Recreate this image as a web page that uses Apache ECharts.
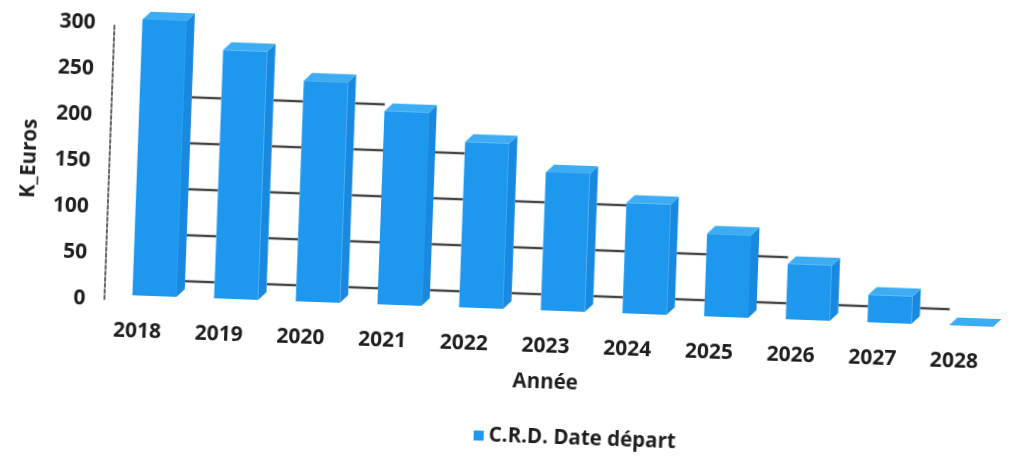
<!DOCTYPE html>
<html>
<head>
<meta charset="utf-8">
<title>C.R.D. Date départ</title>
<script src="https://cdn.jsdelivr.net/npm/echarts@6/dist/echarts.min.js"></script>
<style>
  html, body { margin: 0; padding: 0; background: #ffffff; overflow: hidden; }
  #chart {
    width: 1016px; height: 472px;
    /* the printed page sits slightly turned */
    transform: rotate(2.1deg);
    transform-origin: 508px 236px;
  }
</style>
</head>
<body>
<div id="chart"></div>
<script>
// Capital restant dû en début d'année (K€)
const years = ['2018', '2019', '2020', '2021', '2022', '2023', '2024', '2025', '2026', '2027', '2028'];
const crd = [300, 270, 240, 210, 180, 150, 120, 90, 60, 30, 0];
// back-wall gridline levels
const wallLevels = [0, 50, 100, 150, 200];
const seriesName = 'C.R.D. Date départ';

const FRONT = '#1d98ee';
const SIDE = '#1889e0';
const TOP = '#3eacf3';
const INK = '#1e1e1e';
const FONT = '"Open Sans", "DejaVu Sans", sans-serif';

const BAR_RATIO = 0.54;  // front face width / category band
const DEPTH = 8;         // 3D depth offset (px)
const LIFT = 5;          // bars sit slightly above the label baseline
const WALL_SHIFT = 21;   // back wall lines are drawn behind the bars

// gridline segments visible through the gaps between neighbouring columns
const wallSegments = [];
for (let i = 0; i < years.length - 1; i++) {
  const lower = Math.min(crd[i], crd[i + 1]);
  wallLevels.forEach(function (lv) {
    if (lv === 0 || lower > lv) wallSegments.push([i, lv]);
  });
}

const chart = echarts.init(document.getElementById('chart'));

chart.setOption({
  backgroundColor: '#ffffff',
  animation: false,
  textStyle: { fontFamily: FONT },
  grid: { left: 116, right: 1, top: 38, bottom: 158 },
  legend: {
    data: [{ name: seriesName, icon: 'rect' }],
    left: 476, top: 421,
    itemWidth: 10, itemHeight: 10, itemGap: 6,
    textStyle: { fontFamily: FONT, fontWeight: 'bold', fontSize: 20.5, color: INK }
  },
  xAxis: {
    type: 'category',
    data: years,
    name: 'Année',
    nameLocation: 'middle',
    nameGap: 57,
    nameTextStyle: { fontFamily: FONT, fontWeight: 'bold', fontSize: 20.5, color: INK, padding: [0, 30, 0, 0] },
    axisLine: { show: false },
    axisTick: { show: false },
    axisLabel: {
      margin: 21,
      fontFamily: FONT, fontWeight: 'bold', fontSize: 21, color: INK,
      padding: [0, 32, 0, 0]
    },
    splitLine: { show: false }
  },
  yAxis: {
    type: 'value',
    min: 0, max: 300, interval: 50,
    offset: 9,
    name: 'K_Euros',
    nameLocation: 'middle',
    nameRotate: 90,
    nameGap: 69,
    nameTextStyle: { fontFamily: FONT, fontWeight: 'bold', fontSize: 20.5, color: INK },
    axisLine: { show: true, lineStyle: { color: '#333', width: 1.5, type: [4, 2] } },
    axisTick: { show: false },
    axisLabel: { margin: 19, fontFamily: FONT, fontWeight: 'bold', fontSize: 21, color: INK },
    splitLine: { show: false }
  },
  series: [
    {
      name: 'wall',
      type: 'custom',
      silent: true,
      z: 1,
      data: wallSegments,
      renderItem: function (params, api) {
        const i = api.value(0);
        const lv = api.value(1);
        const a = api.coord([i, lv]);
        const b = api.coord([i + 1, lv]);
        const w = api.size([1, 0])[0] * BAR_RATIO;
        const y = a[1] - WALL_SHIFT;
        return {
          type: 'line',
          shape: { x1: a[0] + w / 2 + DEPTH, y1: y, x2: b[0] - w / 2, y2: y },
          style: { stroke: '#444', lineWidth: 2.4 }
        };
      }
    },
    {
      name: seriesName,
      type: 'custom',
      z: 2,
      itemStyle: { color: FRONT },
      data: crd.map(function (v, i) { return [i, v]; }),
      renderItem: function (params, api) {
        const idx = api.value(0);
        const v = api.value(1);
        const base = api.coord([idx, 0]);
        const top = api.coord([idx, v]);
        const w = api.size([1, 0])[0] * BAR_RATIO;
        const x0 = base[0] - w / 2;
        const x1 = base[0] + w / 2;
        const yb = base[1] - LIFT;
        const yt = top[1] - LIFT;
        const d = DEPTH;
        return {
          type: 'group',
          children: [
            {
              type: 'polygon',
              shape: { points: [[x1, yb], [x1 + d, yb - d], [x1 + d, yt - d], [x1, yt]] },
              style: { fill: SIDE }
            },
            {
              type: 'rect',
              shape: { x: x0, y: yt, width: w, height: Math.max(yb - yt, 0) },
              style: { fill: FRONT }
            },
            {
              type: 'polygon',
              shape: { points: [[x0, yt], [x0 + d, yt - d], [x1 + d, yt - d], [x1, yt]] },
              style: { fill: TOP }
            }
          ]
        };
      }
    }
  ]
});
</script>
</body>
</html>
